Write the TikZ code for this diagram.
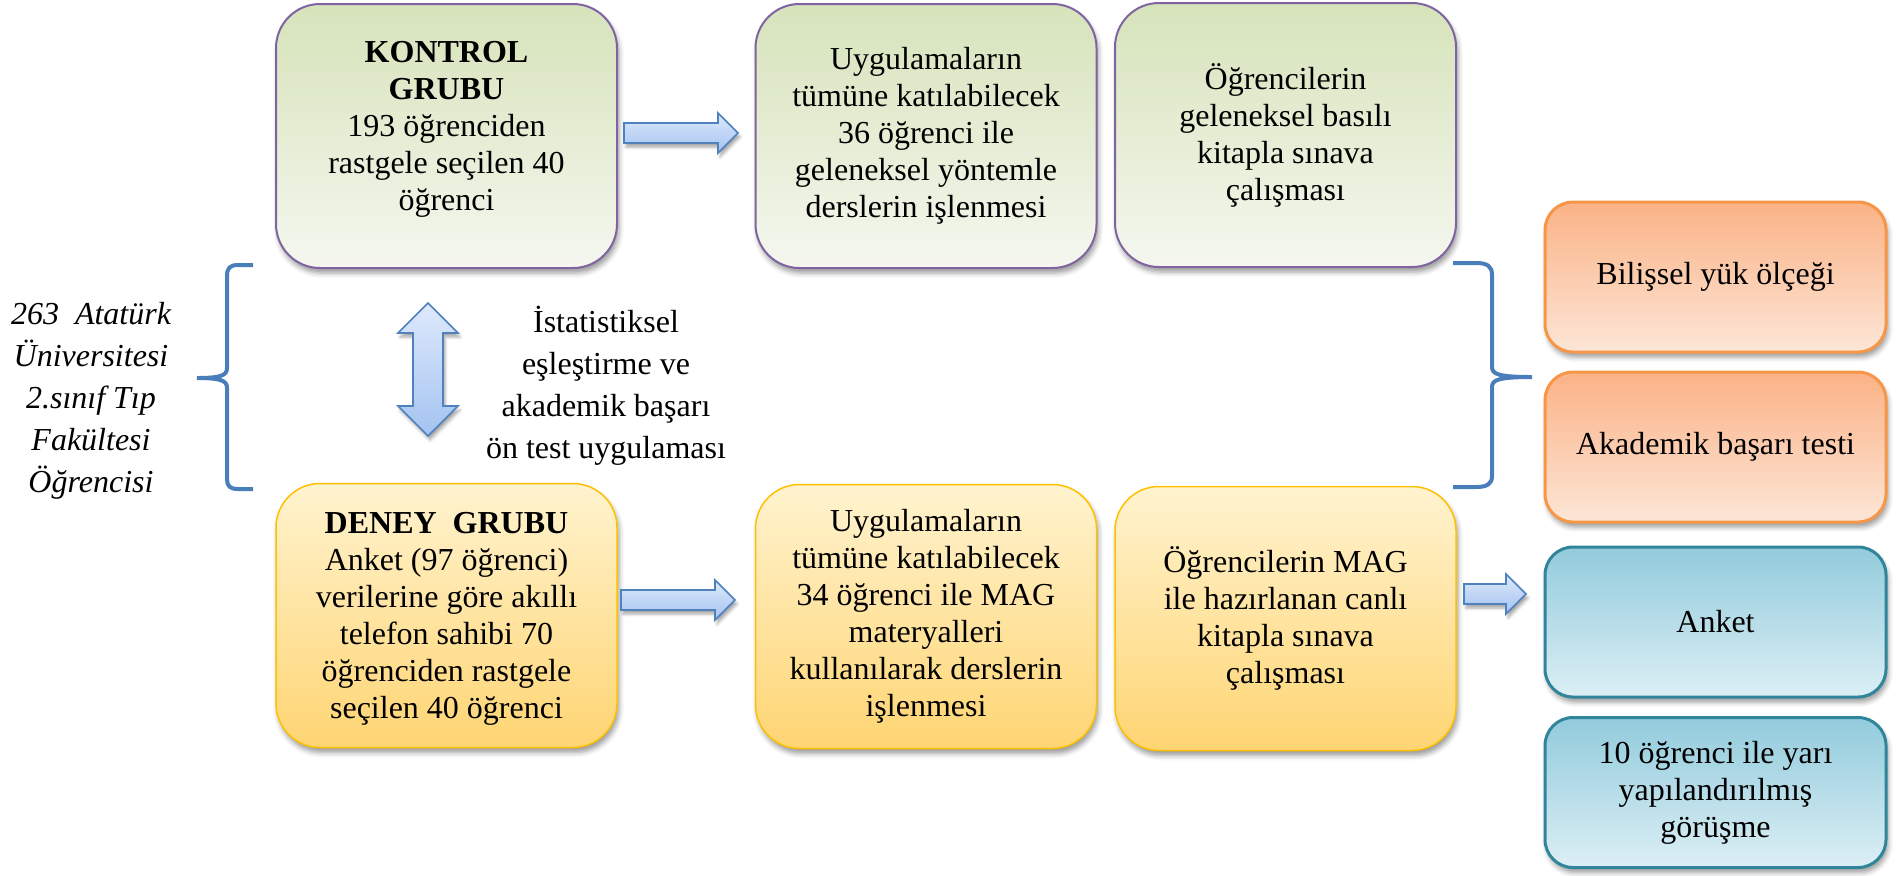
\documentclass[tikz,border=0pt]{standalone}
\usepackage{fontspec}
\setmainfont{Liberation Serif}
\usetikzlibrary{shadows.blur}

\definecolor{grnTop}{RGB}{214,227,186}
\definecolor{grnBot}{RGB}{245,247,239}
\definecolor{grnLine}{RGB}{128,100,162}
\definecolor{ylwTop}{RGB}{255,243,207}
\definecolor{ylwBot}{RGB}{255,213,115}
\definecolor{ylwLine}{RGB}{255,192,0}
\definecolor{orgTop}{RGB}{251,178,134}
\definecolor{orgBot}{RGB}{252,230,215}
\definecolor{orgLine}{RGB}{247,150,70}
\definecolor{bluTop}{RGB}{146,203,220}
\definecolor{bluBot}{RGB}{220,239,245}
\definecolor{bluLine}{RGB}{49,133,155}
\definecolor{arrTop}{RGB}{222,233,252}
\definecolor{arrBot}{RGB}{163,195,240}
\definecolor{arrLine}{RGB}{79,129,189}
\definecolor{braceCol}{RGB}{74,126,187}

% horizontal block arrow: start x, tip x, centre y (pixel units)
\newcommand{\hblockarrow}[3]{%
  \path[blockarrow] ({#1},{#3-10}) -- ({#2-20},{#3-10}) -- ({#2-20},{#3-20})
    -- ({#2},{#3}) -- ({#2-20},{#3+20}) -- ({#2-20},{#3+10}) -- ({#1},{#3+10}) -- cycle;}

\begin{document}
\begin{tikzpicture}[x=0.5pt,y=-0.5pt,
  every node/.style={font=\fontsize{16}{18.5}\selectfont, align=center, inner sep=0pt},
  softshadow/.style={blur shadow={shadow xshift=1pt, shadow yshift=-2.5pt,
      shadow blur radius=2.5pt, shadow opacity=40}},
  card/.style={rectangle, rounded corners=22pt, minimum width=170.5pt,
      minimum height=132pt, softshadow},
  greencard/.style={card, draw=grnLine, line width=1pt, top color=grnTop, bottom color=grnBot},
  yellowcard/.style={card, draw=ylwLine, line width=0.75pt, top color=ylwTop, bottom color=ylwBot},
  smallcard/.style={rectangle, rounded corners=14pt, minimum width=170.5pt,
      minimum height=75pt, line width=1.5pt, softshadow},
  orangecard/.style={smallcard, draw=orgLine, top color=orgTop, bottom color=orgBot},
  bluecard/.style={smallcard, draw=bluLine, top color=bluTop, bottom color=bluBot},
  blockarrow/.style={draw=arrLine, line width=0.8pt, top color=arrTop, bottom color=arrBot,
      line join=miter, blur shadow={shadow xshift=1pt, shadow yshift=-2pt,
      shadow blur radius=1.5pt, shadow opacity=35}},
  brace/.style={draw=braceCol, line width=2pt, line cap=butt},
  wide/.style={font=\fontsize{16}{21}\selectfont}
]
\useasboundingbox (0,0) rectangle (1899,875);

% control group row
\node[greencard] (kontrol) at (446.5,136) {};
\node (kontroltxt) at ([yshift=3.5pt]kontrol.center)
  {\textbf{KONTROL}\\\textbf{GRUBU}\\193 öğrenciden\\rastgele seçilen 40\\öğrenci};
\node[greencard] (kders) at (926,136)
  {Uygulamaların\\tümüne katılabilecek\\36 öğrenci ile\\geleneksel yöntemle\\derslerin işlenmesi};
\node[greencard] (kcalisma) at (1285.5,135)
  {Öğrencilerin\\geleneksel basılı\\kitapla sınava\\çalışması};

% experimental group row
\node[yellowcard] (deney) at (446.5,615.5) {};
\node (deneytxt) at ([yshift=-1.5pt]deney.center)
  {\textbf{DENEY\ \ GRUBU}\\Anket (97 öğrenci)\\verilerine göre akıllı\\telefon sahibi 70\\öğrenciden rastgele\\seçilen 40 öğrenci};
\node[yellowcard] (dders) at (926,616.5)
  {Uygulamaların\\tümüne katılabilecek\\34 öğrenci ile MAG\\materyalleri\\kullanılarak derslerin\\işlenmesi};
\node[yellowcard] (dcalisma) at (1285.5,618.5)
  {Öğrencilerin MAG\\ile hazırlanan canlı\\kitapla sınava\\çalışması};

% measurement tools
\node[orangecard] (bilissel) at (1715.5,277) {Bilişsel yük ölçeği};
\node[orangecard] (akademik) at (1715.5,447) {Akademik başarı testi};
\node[bluecard] (anket) at (1715.5,622) {Anket};
\node[bluecard] (gorusme) at (1715.5,792.5) {10 öğrenci ile yarı\\yapılandırılmış\\görüşme};

% population and matching texts
\node[wide, font=\fontsize{16}{21}\selectfont\itshape] (evren) at (91,401)
  {263\ \ Atatürk\\Üniversitesi\\2.sınıf Tıp\\Fakültesi\\Öğrencisi};
\node[wide] (eslestirme) at (606,386)
  {İstatistiksel\\eşleştirme ve\\akademik başarı\\ön test uygulaması};

% block arrows
\hblockarrow{624}{738}{133}
\hblockarrow{621}{735}{600}
\hblockarrow{1464}{1526}{594}
\path[blockarrow] (428,303) -- (458,333) -- (443,333) -- (443,406) -- (458,406)
  -- (428,436) -- (398,406) -- (413,406) -- (413,333) -- (398,333) -- cycle;

% left brace
\coordinate (lbTop) at (253,265);
\coordinate (lbTip) at (197,378);
\coordinate (lbBot) at (253,489);
\path[brace] (lbTop) -- (238,265) .. controls (230,265) and (227,268) .. (227,276)
  -- (227,368) .. controls (227,375) and (222,378) .. (lbTip)
  .. controls (222,378) and (227,381) .. (227,388)
  -- (227,479) .. controls (227,486) and (230,489) .. (238,489) -- (lbBot);

% right brace
\coordinate (rbTop) at (1453,263);
\coordinate (rbTip) at (1532,377);
\coordinate (rbBot) at (1453,487);
\path[brace] (rbTop) -- (1476,263) .. controls (1487,263) and (1492,266) .. (1492,275)
  -- (1492,367) .. controls (1492,374) and (1498,377) .. (rbTip)
  .. controls (1498,377) and (1492,380) .. (1492,387)
  -- (1492,476) .. controls (1492,484) and (1487,487) .. (1476,487) -- (rbBot);
\end{tikzpicture}
\end{document}
